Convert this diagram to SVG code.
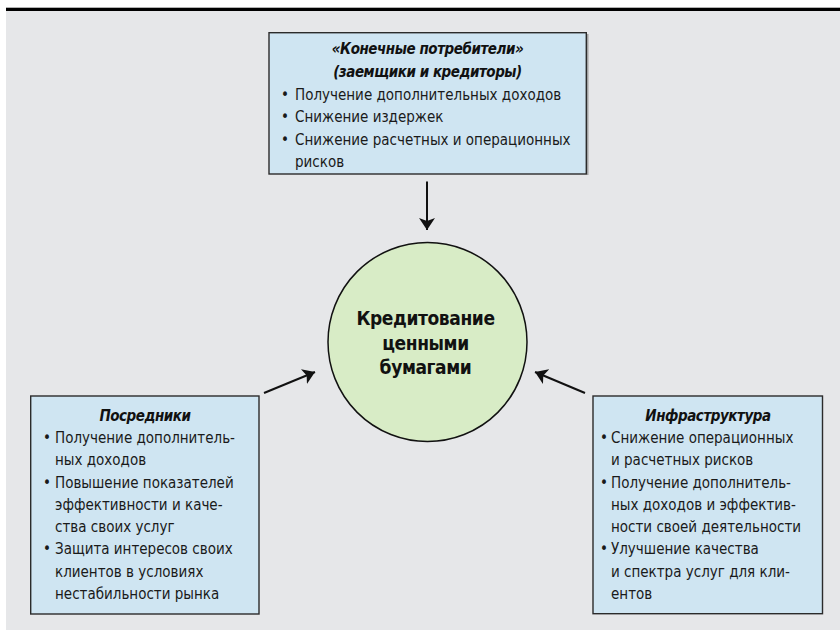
<svg xmlns="http://www.w3.org/2000/svg" width="840" height="630" viewBox="0 0 840 630">
  <defs>
    <style>
      .box { fill: #cfe5f2; stroke: #2b2b2b; stroke-width: 1.4; }
      .shadow { fill: #a0a0a0; }
      .t { font-family: "DejaVu Sans Condensed", "DejaVu Sans", sans-serif; font-stretch: condensed; font-size: 15px; fill: #1a1a1a; }
      .h { font-family: "DejaVu Sans Condensed", "DejaVu Sans", sans-serif; font-stretch: condensed; font-size: 15px; font-weight: bold; font-style: italic; letter-spacing: -0.45px; fill: #111; text-anchor: middle; }
      .c { font-family: "DejaVu Sans Condensed", "DejaVu Sans", sans-serif; font-stretch: condensed; font-size: 19px; font-weight: bold; letter-spacing: -0.4px; fill: #111; text-anchor: middle; }
      .conn { stroke: #111; stroke-width: 2; fill: none; }
    </style>
    <marker id="arr" viewBox="0 0 12 16" refX="12" refY="8" markerWidth="12" markerHeight="16" markerUnits="userSpaceOnUse" orient="auto">
      <path d="M0,0 L12,8 L0,16 L3,8 Z" fill="#111"/>
    </marker>
  </defs>

  <rect x="0" y="0" width="840" height="630" fill="#ffffff"/>
  <rect x="6" y="11" width="834" height="619" fill="#e6e7e9"/>
  <rect x="6" y="7.7" width="834" height="3.3" fill="#000"/>

  <g id="consumers">
    <rect class="shadow" x="587" y="34" width="1.5" height="141"/>
    <rect class="box" x="269" y="32.7" width="317.3" height="141.3"/>
    <text class="h" x="427.5" y="54">«Конечные потребители»</text>
    <text class="h" x="427.5" y="77">(заемщики и кредиторы)</text>
    <text class="t" x="281" y="100">•</text>
    <text class="t" x="295" y="100">Получение дополнительных доходов</text>
    <text class="t" x="281" y="122">•</text>
    <text class="t" x="295" y="122">Снижение издержек</text>
    <text class="t" x="281" y="145">•</text>
    <text class="t" x="295" y="145">Снижение расчетных и операционных</text>
    <text class="t" x="295" y="167">рисков</text>
  </g>

  <g id="center">
    <circle cx="427.5" cy="342" r="99.5" fill="#d8ecc6" stroke="#111" stroke-width="1.5"/>
    <text class="c" x="425.5" y="325">Кредитование</text>
    <text class="c" x="425.5" y="350">ценными</text>
    <text class="c" x="425.5" y="374">бумагами</text>
  </g>

  <g id="intermediaries">
    <rect class="box" x="30.7" y="396" width="228.3" height="218"/>
    <text class="h" x="145" y="421">Посредники</text>
    <text class="t" x="43" y="443">•</text>
    <text class="t" x="55" y="443">Получение дополнитель-</text>
    <text class="t" x="55" y="465">ных доходов</text>
    <text class="t" x="43" y="487.5">•</text>
    <text class="t" x="55" y="487.5">Повышение показателей</text>
    <text class="t" x="55" y="510">эффективности и каче-</text>
    <text class="t" x="55" y="532">ства своих услуг</text>
    <text class="t" x="43" y="554">•</text>
    <text class="t" x="55" y="554">Защита интересов своих</text>
    <text class="t" x="55" y="577">клиентов в условиях</text>
    <text class="t" x="55" y="599">нестабильности рынка</text>
  </g>

  <g id="infrastructure">
    <rect class="box" x="593" y="396" width="229.5" height="217.7"/>
    <text class="h" x="708" y="421">Инфраструктура</text>
    <text class="t" x="600" y="443">•</text>
    <text class="t" x="611" y="443">Снижение операционных</text>
    <text class="t" x="611" y="465">и расчетных рисков</text>
    <text class="t" x="600" y="487.5">•</text>
    <text class="t" x="611" y="487.5">Получение дополнитель-</text>
    <text class="t" x="611" y="510">ных доходов и эффектив-</text>
    <text class="t" x="611" y="532">ности своей деятельности</text>
    <text class="t" x="600" y="554">•</text>
    <text class="t" x="611" y="554">Улучшение качества</text>
    <text class="t" x="611" y="577">и спектра услуг для кли-</text>
    <text class="t" x="611" y="599">ентов</text>
  </g>

  <g id="connectors">
    <line class="conn" x1="427" y1="181.5" x2="427" y2="230" marker-end="url(#arr)"/>
    <line class="conn" x1="264" y1="393" x2="315" y2="372" marker-end="url(#arr)"/>
    <line class="conn" x1="585" y1="393" x2="535" y2="372" marker-end="url(#arr)"/>
  </g>
</svg>
